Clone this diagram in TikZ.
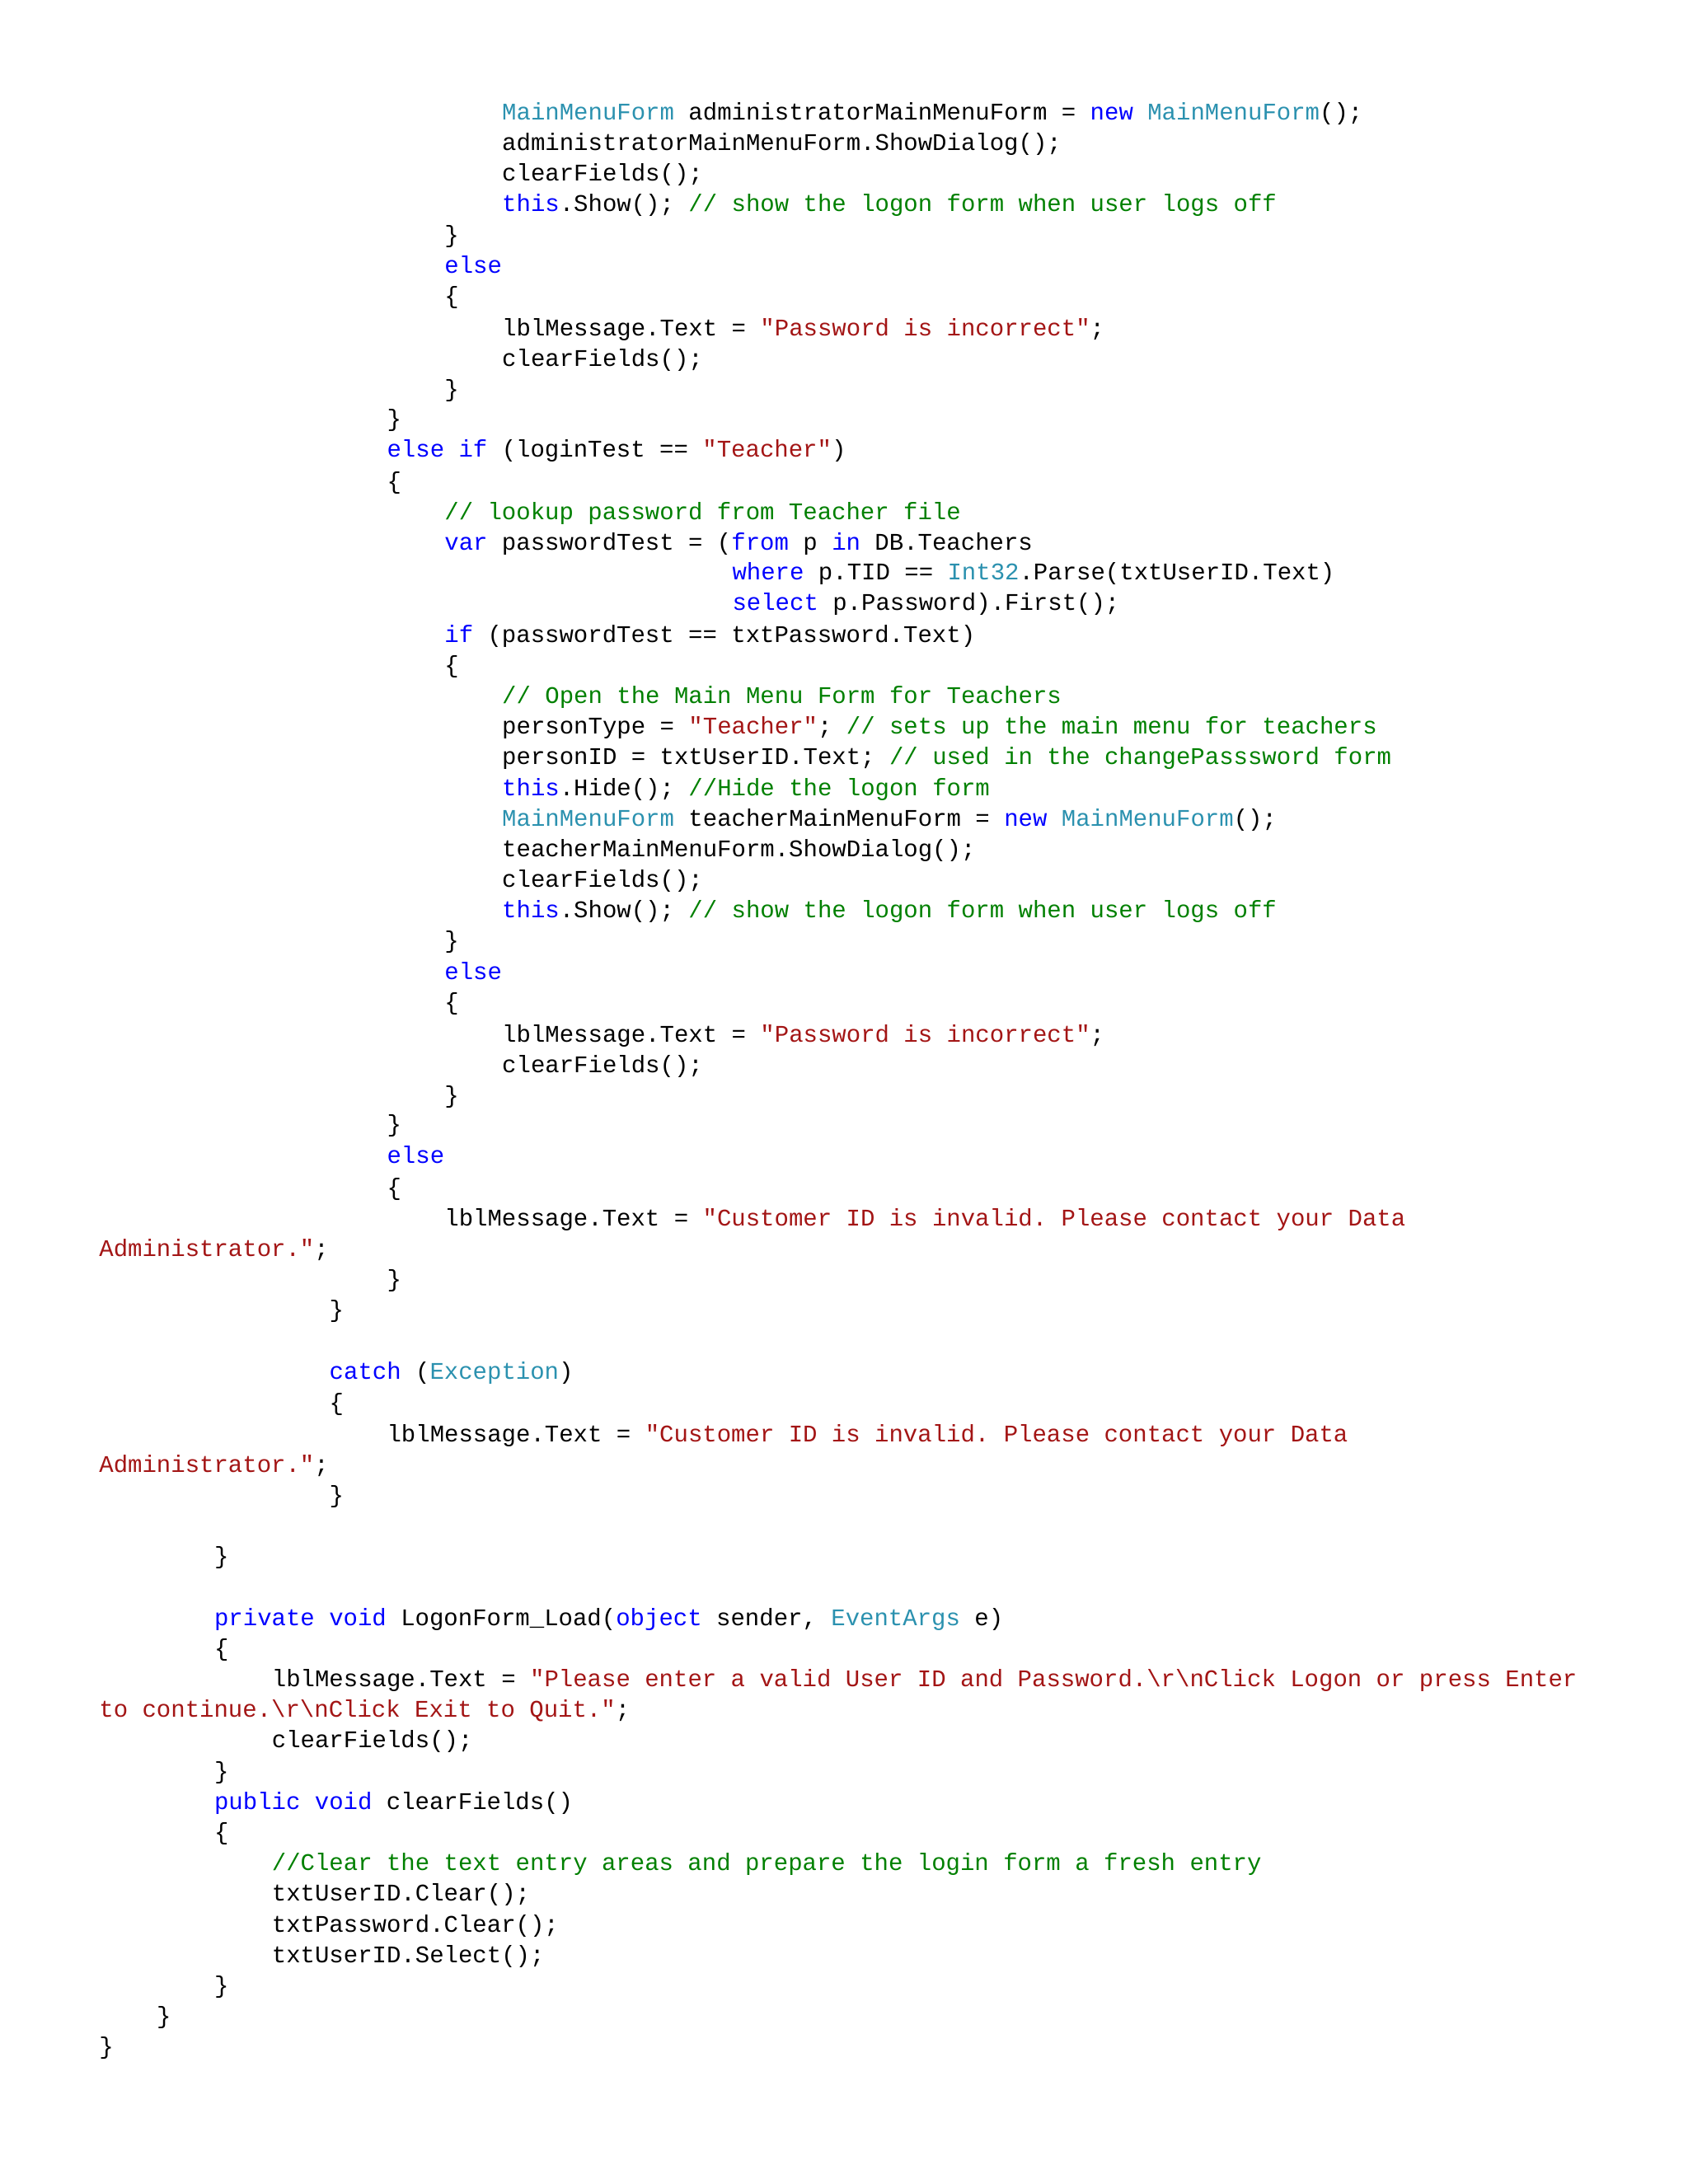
\documentclass[tikz,border=0pt]{standalone}
\usepackage{fontspec}
\setmonofont{Liberation Mono}
\definecolor{kwc}{RGB}{0,0,255}
\definecolor{tyc}{RGB}{43,145,175}
\definecolor{stc}{RGB}{163,21,21}
\definecolor{cmc}{RGB}{0,128,0}
\newcommand\kw[1]{\textcolor{kwc}{#1}}
\newcommand\ty[1]{\textcolor{tyc}{#1}}
\newcommand\strg[1]{\textcolor{stc}{#1}}
\newcommand\cmt[1]{\textcolor{cmc}{#1}}
\newcommand\bs{\textbackslash}
\tikzset{code/.style={anchor=base west,inner sep=0pt,font=\ttfamily\fontsize{14.5pt}{18pt}\selectfont,text=black}}
\newcommand\cl[4]{\node[code] (#1) at ({(71+#2*10.33)*0.845pt},{-(#3+5)*0.845pt}) {#4};}
\begin{document}
\begin{tikzpicture}
\useasboundingbox (0,0) rectangle (1024pt,-1325pt);
\cl{l1}{28}{81}{\ty{MainMenuForm} administratorMainMenuForm = \kw{new} \ty{MainMenuForm}();}
\cl{l2}{28}{103}{administratorMainMenuForm.ShowDialog();}
\cl{l3}{28}{125}{clearFields();}
\cl{l4}{28}{147}{\kw{this}.Show(); \cmt{// show the logon form when user logs off}}
\cl{l5}{24}{169}{\}}
\cl{l6}{24}{191}{\kw{else}}
\cl{l7}{24}{213}{\{}
\cl{l8}{28}{236}{lblMessage.Text = \strg{"Password is incorrect"};}
\cl{l9}{28}{258}{clearFields();}
\cl{l10}{24}{280}{\}}
\cl{l11}{20}{301}{\}}
\cl{l12}{20}{323}{\kw{else if} (loginTest == \strg{"Teacher"})}
\cl{l13}{20}{346}{\{}
\cl{l14}{24}{368}{\cmt{// lookup password from Teacher file}}
\cl{l15}{24}{390}{\kw{var} passwordTest = (\kw{from} p \kw{in} DB.Teachers}
\cl{l16}{44}{411}{\kw{where} p.TID == \ty{Int32}.Parse(txtUserID.Text)}
\cl{l17}{44}{433}{\kw{select} p.Password).First();}
\cl{l18}{24}{456}{\kw{if} (passwordTest == txtPassword.Text)}
\cl{l19}{24}{478}{\{}
\cl{l20}{28}{500}{\cmt{// Open the Main Menu Form for Teachers}}
\cl{l21}{28}{522}{personType = \strg{"Teacher"}; \cmt{// sets up the main menu for teachers}}
\cl{l22}{28}{544}{personID = txtUserID.Text; \cmt{// used in the changePasssword form}}
\cl{l23}{28}{566}{\kw{this}.Hide(); \cmt{//Hide the logon form}}
\cl{l24}{28}{588}{\ty{MainMenuForm} teacherMainMenuForm = \kw{new} \ty{MainMenuForm}();}
\cl{l25}{28}{610}{teacherMainMenuForm.ShowDialog();}
\cl{l26}{28}{632}{clearFields();}
\cl{l27}{28}{654}{\kw{this}.Show(); \cmt{// show the logon form when user logs off}}
\cl{l28}{24}{676}{\}}
\cl{l29}{24}{698}{\kw{else}}
\cl{l30}{24}{720}{\{}
\cl{l31}{28}{743}{lblMessage.Text = \strg{"Password is incorrect"};}
\cl{l32}{28}{765}{clearFields();}
\cl{l33}{24}{787}{\}}
\cl{l34}{20}{808}{\}}
\cl{l35}{20}{830}{\kw{else}}
\cl{l36}{20}{853}{\{}
\cl{l37}{24}{875}{lblMessage.Text = \strg{"Customer ID is invalid. Please contact your Data}}
\cl{l38}{0}{897}{\strg{Administrator."};}
\cl{l39}{20}{919}{\}}
\cl{l40}{16}{941}{\}}
\cl{l42}{16}{985}{\kw{catch} (\ty{Exception})}
\cl{l43}{16}{1008}{\{}
\cl{l44}{20}{1030}{lblMessage.Text = \strg{"Customer ID is invalid. Please contact your Data}}
\cl{l45}{0}{1052}{\strg{Administrator."};}
\cl{l46}{16}{1074}{\}}
\cl{l48}{8}{1118}{\}}
\cl{l50}{8}{1162}{\kw{private void} LogonForm\_Load(\kw{object} sender, \ty{EventArgs} e)}
\cl{l51}{8}{1184}{\{}
\cl{l52}{12}{1206}{lblMessage.Text = \strg{"Please enter a valid User ID and Password.\bs r\bs nClick Logon or press Enter}}
\cl{l53}{0}{1228}{\strg{to continue.\bs r\bs nClick Exit to Quit."};}
\cl{l54}{12}{1250}{clearFields();}
\cl{l55}{8}{1272}{\}}
\cl{l56}{8}{1294}{\kw{public void} clearFields()}
\cl{l57}{8}{1316}{\{}
\cl{l58}{12}{1338}{\cmt{//Clear the text entry areas and prepare the login form a fresh entry}}
\cl{l59}{12}{1360}{txtUserID.Clear();}
\cl{l60}{12}{1382}{txtPassword.Clear();}
\cl{l61}{12}{1404}{txtUserID.Select();}
\cl{l62}{8}{1426}{\}}
\cl{l63}{4}{1448}{\}}
\cl{l64}{0}{1470}{\}}
\end{tikzpicture}
\end{document}
